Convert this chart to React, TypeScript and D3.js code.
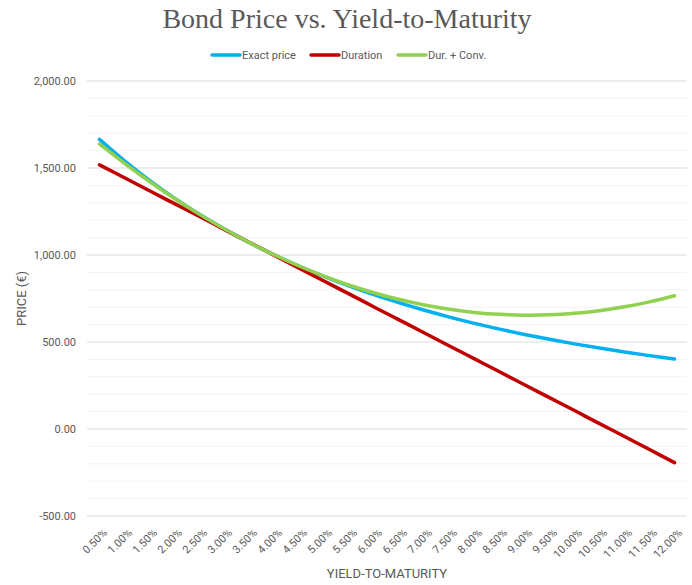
// App.tsx
// Bond price vs. yield-to-maturity: exact price, duration and duration + convexity lines
import React, { useEffect, useRef } from "react";
import * as d3 from "d3";

const yields = [
  "0.50%", "1.00%", "1.50%", "2.00%", "2.50%", "3.00%", "3.50%", "4.00%",
  "4.50%", "5.00%", "5.50%", "6.00%", "6.50%", "7.00%", "7.50%", "8.00%",
  "8.50%", "9.00%", "9.50%", "10.00%", "10.50%", "11.00%", "11.50%", "12.00%",
];

const exactPrice = [
  1664.6, 1541.4, 1429.2, 1327.0, 1233.8, 1148.8, 1071.1, 1000.0,
  934.9, 875.4, 820.7, 770.6, 724.5, 682.2, 643.2, 607.3,
  574.1, 543.5, 515.4, 489.1, 465.0, 442.6, 421.8, 402.5,
];

const duration = [
  1518, 1444, 1369, 1295, 1221, 1146, 1072, 998,
  923, 849, 775, 700, 626, 552, 477, 403,
  329, 254, 180, 106, 31, -43, -118, -193,
];

const durConv = [
  1638.0, 1526.9, 1422.5, 1324.6, 1233.5, 1149.0, 1071.2, 1000.0,
  935.4, 877.6, 826.3, 781.8, 743.9, 712.7, 688.0, 670.1,
  658.8, 654.1, 656.2, 664.8, 680.2, 702.1, 730.8, 766.0,
];

const series = [
  { name: "Exact price", values: exactPrice, color: "#00B0F0" },
  { name: "Duration", values: duration, color: "#C00000" },
  { name: "Dur. + Conv.", values: durConv, color: "#92D050" },
];

const majorTicks = [-500, 0, 500, 1000, 1500, 2000];

const W = 692;
const H = 585;
const TXT = "#595959";
const SANS = "'Liberation Sans Narrow', 'Arial Narrow', 'Roboto', sans-serif";

export default function App() {
  const ref = useRef<SVGSVGElement>(null);

  useEffect(() => {
    document.body.style.margin = "0";
    const svg = d3.select(ref.current);
    svg.selectAll("*").remove();

    const x = d3.scalePoint<string>().domain(yields).range([87, 687]).padding(0.5);
    const y = d3.scaleLinear().domain([-500, 2000]).range([516, 81]);

    // gridlines: minor every 100, major every 500
    const minor = d3.range(-500, 2001, 100).filter((v) => v % 500 !== 0);
    svg.append("g")
      .selectAll("line")
      .data(minor)
      .enter()
      .append("line")
      .attr("x1", 87)
      .attr("x2", 687)
      .attr("y1", (d) => y(d))
      .attr("y2", (d) => y(d))
      .attr("stroke", "#F2F2F2")
      .attr("stroke-width", 1);
    svg.append("g")
      .selectAll("line")
      .data(majorTicks)
      .enter()
      .append("line")
      .attr("x1", 87)
      .attr("x2", 687)
      .attr("y1", (d) => y(d))
      .attr("y2", (d) => y(d))
      .attr("stroke", "#D9D9D9")
      .attr("stroke-width", 1);

    // y tick labels
    const fmt = d3.format(",.2f");
    svg.append("g")
      .selectAll("text")
      .data(majorTicks)
      .enter()
      .append("text")
      .attr("x", 76)
      .attr("y", (d) => y(d) + 4)
      .attr("text-anchor", "end")
      .style("font-family", SANS)
      .style("font-size", "11px")
      .style("fill", TXT)
      .text((d) => fmt(d).replace("−", "-"));

    // x tick labels, rotated
    svg.append("g")
      .selectAll("text")
      .data(yields)
      .enter()
      .append("text")
      .attr("transform", (d) => `translate(${(x(d) as number) + 3},${528}) rotate(-45)`)
      .attr("text-anchor", "end")
      .attr("dy", "0.7em")
      .style("font-family", SANS)
      .style("font-size", "11px")
      .style("fill", TXT)
      .text((d) => d);

    // lines
    const line = d3.line<number>()
      .x((_, i) => x(yields[i]) as number)
      .y((d) => y(d))
      .curve(d3.curveCatmullRom.alpha(0.5));
    series.forEach((s) => {
      svg.append("path")
        .attr("d", line(s.values))
        .attr("fill", "none")
        .attr("stroke", s.color)
        .attr("stroke-width", 3.5)
        .attr("stroke-linecap", "round")
        .attr("stroke-linejoin", "round");
    });

    // title
    svg.append("text")
      .attr("x", 347)
      .attr("y", 28)
      .attr("text-anchor", "middle")
      .style("font-family", "'Liberation Serif', 'DejaVu Serif', serif")
      .style("font-size", "28px")
      .style("fill", TXT)
      .text("Bond Price vs. Yield-to-Maturity");

    // legend
    const legendX = [212, 311, 398];
    series.forEach((s, i) => {
      const g = svg.append("g").attr("transform", `translate(${legendX[i]},55)`);
      g.append("line")
        .attr("x1", 0)
        .attr("x2", 28)
        .attr("stroke", s.color)
        .attr("stroke-width", 3.5)
        .attr("stroke-linecap", "round");
      g.append("text")
        .attr("x", 30)
        .attr("y", 4)
        .style("font-family", SANS)
        .style("font-size", "11px")
        .style("fill", TXT)
        .text(s.name);
    });

    // axis titles
    svg.append("text")
      .attr("x", 387)
      .attr("y", 578)
      .attr("text-anchor", "middle")
      .style("font-family", SANS)
      .style("font-size", "13px")
      .style("fill", TXT)
      .text("YIELD-TO-MATURITY");
    svg.append("text")
      .attr("transform", `translate(26,${y(750)}) rotate(-90)`)
      .attr("text-anchor", "middle")
      .style("font-family", SANS)
      .style("font-size", "13px")
      .style("fill", TXT)
      .text("PRICE (€)");
  }, []);

  return <svg ref={ref} width={W} height={H} style={{ display: "block", background: "#fff" }} />;
}
